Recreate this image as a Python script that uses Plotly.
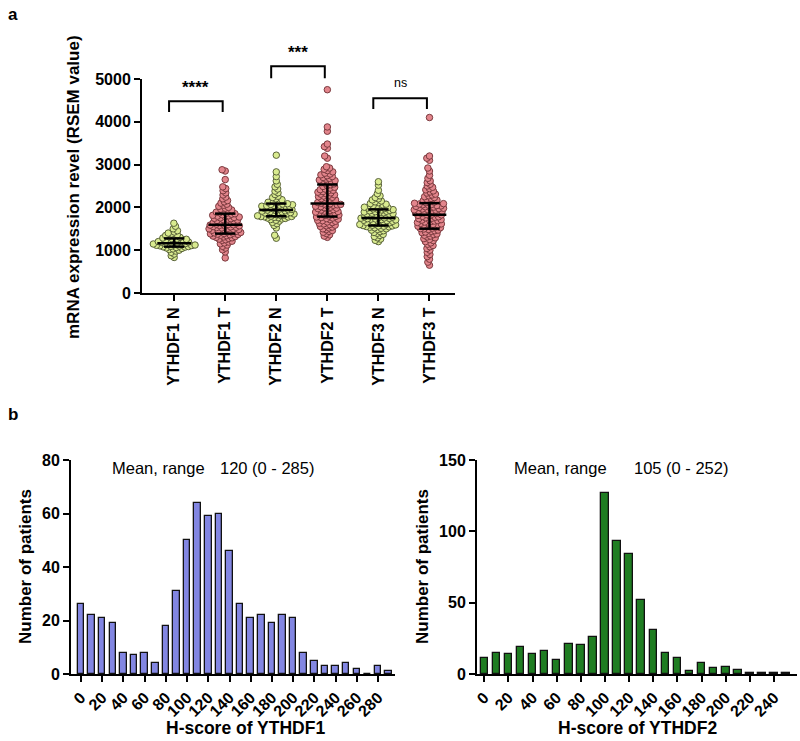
import numpy as np
import plotly.graph_objects as go

# ---------------- data ----------------
groups = ["YTHDF1 N", "YTHDF1 T", "YTHDF2 N", "YTHDF2 T", "YTHDF3 N", "YTHDF3 T"]

ythdf1_n = [830, 870, 910, 950, 980, 1000, 1015, 1030, 1042, 1053, 1063, 1072, 1079,
            1085, 1091, 1097, 1103, 1109, 1115, 1121, 1127, 1133, 1139, 1145, 1151, 1156,
            1165, 1174, 1183, 1192, 1201, 1210, 1219, 1228, 1237, 1246, 1255, 1264, 1273,
            1285, 1300, 1315, 1330, 1345, 1360, 1380, 1400, 1425, 1455, 1500, 1560, 1630]
ythdf1_t = [820, 960, 1010, 1050, 1090, 1120, 1150, 1170, 1190, 1210, 1230, 1245, 1260, 1275, 1290,
            1300, 1310, 1320, 1330, 1340, 1350, 1360, 1368, 1375, 1382,
            1390, 1398, 1406, 1415, 1424, 1432, 1440, 1450, 1458, 1466, 1475, 1484, 1492, 1500, 1510,
            1520, 1528, 1536, 1545, 1553, 1562, 1570, 1578, 1586, 1593,
            1600, 1610, 1620, 1630, 1640, 1650, 1660, 1672, 1684, 1695, 1705, 1715, 1725, 1735, 1745,
            1755, 1765, 1775, 1785, 1795, 1805, 1815, 1828, 1840, 1852,
            1862, 1875, 1890, 1905, 1920, 1940, 1960, 1980, 2000, 2025, 2050, 2075, 2100, 2130, 2160,
            2200, 2240, 2290, 2340, 2390, 2440, 2480, 2650, 2850, 2880]
ythdf2_n = [1280, 1350, 1520, 1580, 1620, 1650, 1680, 1700, 1715, 1730, 1742, 1752, 1760, 1768, 1775,
            1780, 1785, 1788,
            1795, 1803, 1811, 1820, 1828, 1836, 1845, 1853, 1862, 1870, 1878, 1887, 1895, 1903, 1912,
            1920, 1928, 1936,
            1945, 1953, 1962, 1970, 1978, 1987, 1995, 2003, 2012, 2020, 2028, 2037, 2045, 2053, 2062,
            2070, 2078, 2086,
            2100, 2120, 2140, 2160, 2180, 2200, 2230, 2260, 2300, 2340, 2380, 2430, 2480, 2540, 2620,
            2720, 2830, 3220]
ythdf2_t = [1300, 1330, 1360, 1390, 1420, 1440, 1460, 1480, 1500, 1520, 1540, 1555, 1570, 1585, 1600,
            1615, 1630, 1645, 1660, 1675, 1690, 1700, 1715, 1725, 1740, 1752, 1763, 1775,
            1790, 1800, 1812, 1823, 1835, 1846, 1857, 1868, 1880, 1891, 1903, 1914, 1926, 1937, 1948,
            1960, 1971, 1983, 1994, 2005, 2017, 2028, 2040, 2050, 2060, 2070, 2078, 2086,
            2100, 2115, 2130, 2145, 2160, 2175, 2190, 2205, 2220, 2235, 2250, 2265, 2280, 2295, 2310,
            2325, 2340, 2355, 2370, 2385, 2400, 2415, 2430, 2450, 2470, 2490, 2510, 2530,
            2550, 2565, 2580, 2595, 2610, 2625, 2640, 2660, 2680, 2700, 2720, 2740, 2760, 2780, 2800,
            2830, 2860, 2890, 2920, 2950, 3150, 3200, 3380, 3420, 3480, 3780, 3880, 4750]
ythdf3_n = [1200, 1230, 1260, 1290, 1320, 1345, 1370, 1395, 1415, 1435, 1455, 1470, 1485, 1500, 1512,
            1524, 1535, 1545, 1553, 1560, 1565, 1568,
            1575, 1583, 1591, 1600, 1608, 1616, 1625, 1633, 1641, 1650, 1658, 1666, 1675, 1683, 1691,
            1700, 1708, 1716, 1725, 1730, 1737, 1743, 1748,
            1755, 1764, 1773, 1782, 1791, 1800, 1810, 1819, 1828, 1837, 1846, 1855, 1864, 1873, 1882,
            1892, 1901, 1910, 1920, 1930, 1940, 1948, 1955,
            1965, 1975, 1985, 1995, 2005, 2018, 2030, 2045, 2060, 2075, 2090, 2110, 2130, 2150, 2175,
            2200, 2230, 2270, 2320, 2400, 2520, 2600]
ythdf3_t = [650, 720, 790, 850, 900, 950, 1000, 1040, 1080, 1110, 1140, 1170, 1200, 1225, 1250,
            1270, 1290, 1310, 1330, 1350, 1365, 1380, 1395, 1410, 1425, 1440, 1455, 1470, 1483, 1495,
            1505, 1516, 1527, 1538, 1549, 1560, 1571, 1582, 1593, 1604, 1615, 1626, 1637, 1648, 1659,
            1670, 1681, 1692, 1703, 1714, 1725, 1736, 1747, 1758, 1769, 1780, 1791, 1802, 1813, 1824,
            1836, 1845, 1854, 1863, 1872, 1881, 1890, 1899, 1908, 1917, 1926, 1935, 1944, 1953, 1962,
            1971, 1980, 1989, 1998, 2007, 2016, 2025, 2034, 2043, 2052, 2061, 2070, 2079, 2088, 2096,
            2110, 2125, 2140, 2155, 2170, 2190, 2210, 2230, 2250, 2270, 2290, 2310, 2335, 2360, 2385,
            2410, 2440, 2470, 2500, 2540, 2580, 2620, 2680, 2750, 2850, 2920, 3100, 3150, 3200, 4100]
group_values = [ythdf1_n, ythdf1_t, ythdf2_n, ythdf2_t, ythdf3_n, ythdf3_t]

significance = ["****", "***", "ns"]
sig_pairs = [(0, 1), (2, 3), (4, 5)]
sig_bracket_top = [4480, 5300, 4550]
sig_bracket_leg = [4230, 5020, 4300]

h1_bins = [0, 10, 20, 30, 40, 50, 60, 70, 80, 90, 100, 110, 120, 130, 140, 150, 160, 170, 180, 190,
           200, 210, 220, 230, 240, 250, 260, 270, 280, 290]
h1_counts = [26, 22, 21, 19, 8, 7, 8, 4, 18, 31, 50, 64, 59, 60, 46, 26, 21, 22, 19, 22,
             21, 8, 5, 3, 3, 4, 2, 0, 3, 1]
h2_bins = [0, 10, 20, 30, 40, 50, 60, 70, 80, 90, 100, 110, 120, 130, 140, 150, 160, 170, 180, 190,
           200, 210, 220, 230, 240, 250]
h2_counts = [11, 15, 14, 19, 14, 16, 10, 21, 20, 26, 127, 93, 84, 52, 31, 15, 11, 2, 8, 4,
             5, 3, 0.4, 0.4, 0.4, 0.4]

h1_ticks = list(range(0, 281, 20))
h2_ticks = list(range(0, 241, 20))

# ---------------- layout helpers ----------------
W, H = 800, 741
FONT = "Liberation Sans, Arial, sans-serif"


def px_x(p):
    return p / W


def px_y(p):
    return 1 - p / H


top_xdom = [px_x(142), px_x(455)]
top_ydom = [px_y(293), px_y(79)]
bl_xdom = [px_x(71), px_x(395)]
br_xdom = [px_x(477), px_x(797)]
b_ydom = [px_y(674), px_y(460)]

Y_MAX = 5000
X_RANGE = [-0.63, 5.5]
y_px_per_unit = (293 - 79) / Y_MAX
x_px_per_unit = (455 - 142) / (X_RANGE[1] - X_RANGE[0])


def swarm_offsets(vals, diam=3.4):
    vals = np.asarray(vals, dtype=float)
    order = np.argsort(vals)
    placed = []
    offs = np.zeros(len(vals))
    for idx in order:
        y = vals[idx] * y_px_per_unit
        intervals = []
        cands = [0.0]
        for (px, py) in placed:
            dy = abs(py - y)
            if dy < diam:
                h = np.sqrt(diam ** 2 - dy ** 2)
                intervals.append((px - h, px + h))
                cands += [px - h, px + h]
        cands.sort(key=lambda c: (abs(c), c))
        chosen = 0.0
        for c in cands:
            if all(not (lo + 1e-6 < c < hi - 1e-6) for lo, hi in intervals):
                chosen = c
                break
        placed.append((chosen, y))
        offs[idx] = chosen
    return offs / x_px_per_unit


fig = go.Figure()

fill_cols = ["#d9eb8f", "#e3858c"]
edge_cols = ["#59623a", "#7a3a3e"]

for i, vals in enumerate(group_values):
    offs = swarm_offsets(vals)
    c = i % 2
    fig.add_trace(go.Scatter(
        x=i + offs, y=vals, mode="markers", xaxis="x", yaxis="y",
        marker=dict(size=6.5, color=fill_cols[c], line=dict(color=edge_cols[c], width=1)),
        showlegend=False, hoverinfo="y"))

# median + IQR lines
for i, vals in enumerate(group_values):
    q1, med, q3 = np.percentile(vals, [25, 50, 75])
    xs = [i - 0.33, i + 0.33, None, i - 0.2, i + 0.2, None, i - 0.2, i + 0.2, None, i, i]
    ys = [med, med, None, q1, q1, None, q3, q3, None, q1, q3]
    fig.add_trace(go.Scatter(x=xs, y=ys, mode="lines", xaxis="x", yaxis="y",
                             line=dict(color="black", width=2.5), showlegend=False,
                             hoverinfo="skip"))


def val_to_paper(v):
    return top_ydom[0] + v / Y_MAX * (top_ydom[1] - top_ydom[0])


for (a, b), s, top, leg in zip(sig_pairs, significance, sig_bracket_top, sig_bracket_leg):
    xa, xb = a - 0.1, b - 0.05
    fig.add_shape(type="path",
                  path=f"M {xa} {val_to_paper(leg)} L {xa} {val_to_paper(top)} "
                       f"L {xb} {val_to_paper(top)} L {xb} {val_to_paper(leg)}",
                  xref="x", yref="paper", line=dict(color="black", width=2))
    bold = s != "ns"
    fig.add_annotation(x=(xa + xb) / 2, y=val_to_paper(top), xref="x", yref="paper",
                       text=f"<b>{s}</b>" if bold else s, showarrow=False,
                       yanchor="bottom", yshift=2 if bold else 6,
                       font=dict(size=17 if bold else 12.5, color="black", family=FONT))

# histograms
fig.add_trace(go.Bar(x=h1_bins, y=h1_counts, width=6.2, xaxis="x2", yaxis="y2",
                     marker=dict(color="#8286e2", line=dict(color="#111111", width=1.3)),
                     showlegend=False))
fig.add_trace(go.Bar(x=h2_bins, y=h2_counts, width=6.2, xaxis="x3", yaxis="y3",
                     marker=dict(color="#1f7d22", line=dict(color="#111111", width=1.3)),
                     showlegend=False))

axis_common = dict(showline=True, linecolor="black", linewidth=2, ticks="outside",
                   ticklen=6, tickwidth=2, tickcolor="black", showgrid=False, zeroline=False,
                   automargin=False,
                   tickfont=dict(family=FONT, size=16, color="black"))

fig.update_layout(
    width=W, height=H, autosize=False, margin=dict(l=0, r=0, t=0, b=0, pad=0, autoexpand=False),
    paper_bgcolor="white", plot_bgcolor="white",
    font=dict(family=FONT, color="black"),
    bargap=0,
    xaxis=dict(domain=top_xdom, anchor="y", range=X_RANGE, tickvals=list(range(6)),
               ticktext=[f"<b>{g}</b>" for g in groups], tickangle=-90, **axis_common),
    yaxis=dict(domain=top_ydom, anchor="x", range=[0, Y_MAX],
               tickvals=[0, 1000, 2000, 3000, 4000, 5000],
               ticktext=[f"<b>{v}</b>" for v in [0, 1000, 2000, 3000, 4000, 5000]],
               **axis_common),
    xaxis2=dict(domain=bl_xdom, anchor="y2", range=[-9.4, 296], tickvals=h1_ticks,
                ticktext=[f"<b>{t}</b>" for t in h1_ticks], tickangle=-45, **axis_common),
    yaxis2=dict(domain=b_ydom, anchor="x2", range=[0, 80], tickvals=[0, 20, 40, 60, 80],
                ticktext=[f"<b>{t}</b>" for t in [0, 20, 40, 60, 80]], **axis_common),
    xaxis3=dict(domain=br_xdom, anchor="y3", range=[-6, 259], tickvals=h2_ticks,
                ticktext=[f"<b>{t}</b>" for t in h2_ticks], tickangle=-45, **axis_common),
    yaxis3=dict(domain=b_ydom, anchor="x3", range=[0, 150], tickvals=[0, 50, 100, 150],
                ticktext=[f"<b>{t}</b>" for t in [0, 50, 100, 150]], **axis_common),
)


def ann(text, x, y, size, angle=0, xanchor="center", yanchor="middle"):
    fig.add_annotation(text=text, x=px_x(x), y=px_y(y), xref="paper", yref="paper",
                       showarrow=False, textangle=angle, xanchor=xanchor, yanchor=yanchor,
                       font=dict(family=FONT, size=size, color="black"))


ann("<b>a</b>", 6, 15, 17, xanchor="left")
ann("<b>b</b>", 6, 415, 17, xanchor="left")
ann("<b>mRNA expression revel (RSEM value)</b>", 73, 187, 17, angle=-90)
ann("<b>Number of patients</b>", 25, 567, 17, angle=-90)
ann("<b>Number of patients</b>", 422, 567, 17, angle=-90)
ann("<b>H-score of YTHDF1</b>", 245, 740, 17.5, yanchor="bottom")
ann("<b>H-score of YTHDF2</b>", 637, 740, 17.5, yanchor="bottom")
ann("Mean, range", 110, 468, 16.5, xanchor="left")
ann("120 (0 - 285)", 218, 468, 16.5, xanchor="left")
ann("Mean, range", 512, 468, 16.5, xanchor="left")
ann("105 (0 - 252)", 632, 468, 16.5, xanchor="left")

fig.write_html("out.html", config={"displayModeBar": False},
               post_script="document.body.style.margin='0px';")
